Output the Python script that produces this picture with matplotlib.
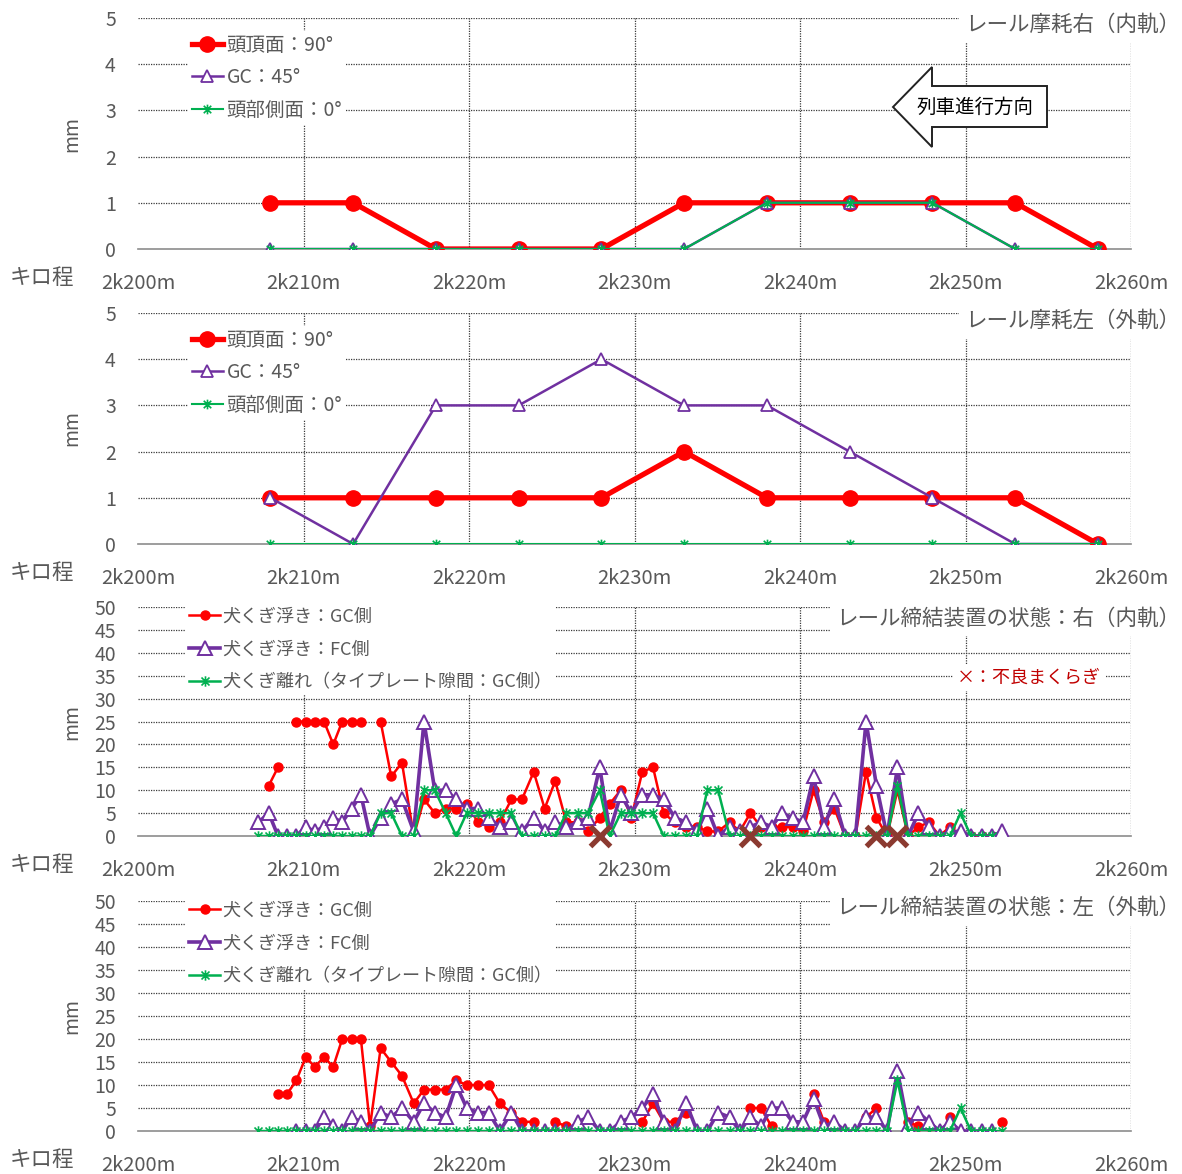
import numpy as np
import matplotlib
matplotlib.use('Agg')
import matplotlib.pyplot as plt
from matplotlib.path import Path
from matplotlib.patches import Polygon

plt.rcParams['font.family'] = ['Noto Sans CJK JP', 'DejaVu Sans']

RED = '#FF0000'
PURPLE = '#7030A0'
GREEN = '#00B050'
BROWN = '#8B3A30'
GRAY = '#595959'

# x axis (km position in m)
x_ticks = [2200, 2210, 2220, 2230, 2240, 2250, 2260]
x_labels = ['2k200m', '2k210m', '2k220m', '2k230m', '2k240m', '2k250m', '2k260m']

# ---- rail wear (every 5 m) ----
wear_pos = [2208, 2213, 2218, 2223, 2228, 2233, 2238, 2243, 2248, 2253, 2258]
wear_labels = ['頭頂面：90°', 'GC：45°', '頭部側面：0°']

wear_r_top = [1, 1, 0, 0, 0, 1, 1, 1, 1, 1, 0]
wear_r_gc = [0, 0, 0, 0, 0, 0, 1, 1, 1, 0, 0]
wear_r_side = [0, 0, 0, 0, 0, 0, 1, 1, 1, 0, 0]

wear_l_top = [1, 1, 1, 1, 1, 2, 1, 1, 1, 1, 0]
wear_l_gc = [1, 0, 3, 3, 4, 3, 3, 2, 1, 0, 0]
wear_l_side = [0, 0, 0, 0, 0, 0, 0, 0, 0, 0, 0]

# ---- fastening condition (every sleeper) ----
slp_pos = [2207.28, 2207.90, 2208.46, 2209.00, 2209.57, 2210.13, 2210.68, 2211.24,
           2211.80, 2212.34, 2212.91, 2213.47, 2214.02, 2214.66, 2215.30, 2215.95,
           2216.66, 2217.28, 2217.93, 2218.59, 2219.23, 2219.86, 2220.54, 2221.19,
           2221.86, 2222.56, 2223.20, 2223.91, 2224.57, 2225.21, 2225.88, 2226.59,
           2227.19, 2227.90, 2228.50, 2229.17, 2229.81, 2230.47, 2231.12, 2231.76,
           2232.43, 2233.13, 2233.78, 2234.40, 2235.05, 2235.75, 2236.36, 2237.00,
           2237.64, 2238.28, 2238.91, 2239.55, 2240.18, 2240.82, 2241.45, 2242.08,
           2242.72, 2243.35, 2243.99, 2244.62, 2245.26, 2245.89, 2246.53, 2247.16,
           2247.79, 2248.43, 2249.06, 2249.70, 2250.33, 2250.97, 2251.60, 2252.23]
fast_labels = ['犬くぎ浮き：GC側', '犬くぎ浮き：FC側', '犬くぎ離れ（タイプレート隙間：GC側）']

N = None
# right rail (inner)
fr_gc = [N, 11, 15, N, 25, 25, 25, 25, 20, 25, 25, 25, N, 25, 13, 16, 0, 8,
         5, 6, 6, 7, 3, 2, 3, 8, 8, 14, 6, 12, 3, 3, 1, 4, 7, 10,
         4, 14, 15, 5, 3, 2, 2, 1, 1, 3, 1, 5, 2, 2, 2, 2, 1, 10,
         3, 6, 0, 0, 14, 4, 0, 10, 0, 2, 3, 0, 2, 0, 0, 0, 0, N]
fr_fc = [3, 5, 0, 0, 0, 2, 1, 2, 4, 3, 6, 9, 0, 4, 7, 8, 1, 25,
         10, 10, 8, 6, 6, 4, 2, 3, 1, 4, 1, 3, 2, 3, 4, 15, 1, 9,
         5, 9, 9, 8, 4, 3, 1, 6, 0, 2, 1, 2, 3, 2, 5, 4, 3, 13,
         2, 8, 0, 0, 25, 11, 0, 15, 0, 5, 2, 0, 1, 1, 0, 0, 0, 1]
fr_gap = [0, 0, 0, 0, 0, 0, 0, 0, 0, 0, 0, 0, 0, 5, 5, 0, 0, 10,
          10, 5, 0, 5, 5, 5, 5, 5, 0, 0, 0, 0, 5, 5, 5, 10, 0, 5,
          5, 5, 5, 0, 0, 0, 0, 10, 10, 0, 0, 0, 0, 0, 0, 0, 0, 0,
          0, 0, 0, 0, 0, 0, 0, 11, 0, 0, 0, 0, 0, 5, 0, 0, 0, N]
# left rail (outer)
fl_gc = [N, N, 8, 8, 11, 16, 14, 16, 14, 20, 20, 20, 1, 18, 15, 12, 6, 9,
         9, 9, 11, 10, 10, 10, 6, 4, 2, 2, N, 2, 1, N, N, N, N, N,
         N, 2, 6, 2, 2, 4, N, N, N, N, N, 5, 5, 1, N, N, N, 8,
         2, N, N, N, 3, 5, N, N, 2, 1, 1, N, 3, N, N, N, N, 2]
fl_fc = [N, N, N, N, 0, 0, 0, 3, 1, 0, 3, 2, 0, 4, 3, 5, 2, 6,
         4, 3, 10, 5, 4, 4, 0, 4, 0, 0, 0, 0, 0, 2, 3, 0, 0, 2,
         3, 5, 8, 2, 0, 6, 0, 0, 4, 3, 0, 3, 1, 5, 5, 2, 2, 7,
         1, 2, 0, 0, 3, 3, 0, 13, 1, 4, 2, 0, 2, 0, 0, 0, 0, N]
fl_gap = [0, 0, 0, 0, 0, 0, 0, 0, 0, 0, 0, 0, 0, 0, 0, 0, 0, 0,
          0, 0, 0, 0, 0, 0, 0, 0, 0, 0, 0, 0, 0, 0, 0, 0, 0, 0,
          0, 0, 0, 0, 0, 0, 0, 0, 0, 0, 0, 0, 0, 0, 0, 0, 0, 0,
          0, 0, 0, 0, 0, 0, 0, 11, 0, 0, 0, 0, 0, 5, 0, 0, 0, 0]

# bad sleepers (right rail)
bad_pos = [2227.90, 2237.00, 2244.62, 2245.89]
bad_val = [0, 0, 0, 0]

STAR = Path([(-1, -1), (1, 1), (-1, 1), (1, -1), (0, -1.3), (0, 1.3)],
            [Path.MOVETO, Path.LINETO] * 3)


def arr(v):
    return np.array(v, dtype=float)


def style_axes(ax, ymax, ystep, title, ty):
    ax.set_xlim(2200, 2260)
    ax.set_ylim(0, ymax)
    ax.set_xticks(x_ticks)
    ax.set_xticklabels(x_labels)
    ax.set_yticks(np.arange(0, ymax + 0.1, ystep))
    for s in ['left', 'right', 'top']:
        ax.spines[s].set_visible(False)
    ax.spines['bottom'].set_color('#8C8C8C')
    ax.spines['bottom'].set_linewidth(1.2)
    ax.set_axisbelow(True)
    ax.grid(True, linestyle=(0, (1, 1)), color='#3A3A3A', linewidth=0.9)
    ax.get_xgridlines()[0].set_visible(False)
    ax.get_ygridlines()[0].set_visible(False)
    ax.tick_params(axis='both', length=0, colors=GRAY, labelsize=14.5)
    ax.tick_params(axis='x', pad=17)
    ax.tick_params(axis='y', pad=16, labelsize=14)
    ax.set_ylabel('mm', fontsize=14, color=GRAY)
    ax.yaxis.set_label_coords(-0.056, 0.5)
    ax.text(1.05, ty, title, transform=ax.transAxes, ha='right', va='center',
            fontsize=15.5, color=GRAY, zorder=10,
            bbox=dict(fc='white', ec='none', pad=5))


fig = plt.figure(figsize=(11.82, 11.74), dpi=100)
L, W = 138 / 1182, 993 / 1182
ax1 = fig.add_axes([L, 1 - 249 / 1174, W, 231 / 1174])
ax2 = fig.add_axes([L, 1 - 544 / 1174, W, 231 / 1174])
ax3 = fig.add_axes([L, 1 - 836 / 1174, W, 229 / 1174])
ax4 = fig.add_axes([L, 1 - 1131 / 1174, W, 230 / 1174])

# rail wear panels
for ax, top, gc, side, title, ty in [
        (ax1, wear_r_top, wear_r_gc, wear_r_side, 'レール摩耗右（内軌）', 0.97),
        (ax2, wear_l_top, wear_l_gc, wear_l_side, 'レール摩耗左（外軌）', 0.965)]:
    style_axes(ax, 5, 1, title, ty)
    ax.plot(wear_pos, top, color=RED, lw=3.8, marker='o', ms=11, label=wear_labels[0], zorder=3)
    ax.plot(wear_pos, gc, color=PURPLE, lw=1.8, marker='^', ms=8, mfc='white', mew=1.3,
            label=wear_labels[1], zorder=4)
    ax.plot(wear_pos, side, color=GREEN, lw=1.5, marker=STAR, ms=7, mew=1.2,
            label=wear_labels[2], zorder=5)
    leg = ax.legend(loc='upper left', bbox_to_anchor=(0.05, 0.945), borderaxespad=0,
                    fontsize=14, handlelength=1.6, handletextpad=0.2, labelspacing=0.6,
                    borderpad=0.2, frameon=True, framealpha=1, edgecolor='none',
                    facecolor='white')
    for t in leg.get_texts():
        t.set_color(GRAY)

# train direction arrow (pixel outline -> axes fraction)
arrow_px = [(893, 107), (932, 67), (932, 86), (1047, 86), (1047, 127), (932, 127), (932, 147)]
arrow_ax = [((px - 138) / 993, 1 - (py - 18) / 231) for px, py in arrow_px]
ax1.add_patch(Polygon(arrow_ax, closed=True, transform=ax1.transAxes, fc='white', ec='#222222',
                      lw=1.4, zorder=9, clip_on=False))
ax1.text((975 - 138) / 993, 1 - (107 - 18) / 231, '列車進行方向', transform=ax1.transAxes,
         ha='center', va='center', fontsize=14, color='black', zorder=10)

# fastening panels
for ax, gc, fc, gap, title, ty in [(ax3, fr_gc, fr_fc, fr_gap, 'レール締結装置の状態：右（内軌）', 0.95),
                                   (ax4, fl_gc, fl_fc, fl_gap, 'レール締結装置の状態：左（外軌）', 0.97)]:
    style_axes(ax, 50, 5, title, ty)
    ax.plot(slp_pos, arr(gc), color=RED, lw=1.8, marker='o', ms=6.5, label=fast_labels[0], zorder=3)
    ax.plot(slp_pos, arr(fc), color=PURPLE, lw=2.6, marker='^', ms=10, mfc='white', mew=1.4,
            label=fast_labels[1], zorder=4)
    ax.plot(slp_pos, arr(gap), color=GREEN, lw=1.8, marker=STAR, ms=7.5, mew=1.2,
            label=fast_labels[2], zorder=5)
    leg = ax.legend(loc='upper left', bbox_to_anchor=(0.048, 1.014), borderaxespad=0,
                    fontsize=13, handlelength=1.7, handletextpad=0.15, labelspacing=0.84,
                    borderpad=0.2, frameon=True, framealpha=1, edgecolor='none',
                    facecolor='white')
    for t in leg.get_texts():
        t.set_color(GRAY)

ax3.plot(bad_pos, bad_val, linestyle='none', marker='x', ms=14, mew=3.8, color=BROWN,
         zorder=6, clip_on=False)
ax3.text(0.897, 0.69, '×：不良まくらぎ', transform=ax3.transAxes, ha='center', va='center',
         fontsize=13, color='#C00000', zorder=10, bbox=dict(fc='white', ec='none', pad=3))

for yb in [278, 573, 865, 1160]:
    fig.text(42 / 1182, 1 - yb / 1174, 'キロ程', ha='center', va='center', fontsize=15.5, color=GRAY)

fig.savefig('out.png', dpi=100, facecolor='white')
